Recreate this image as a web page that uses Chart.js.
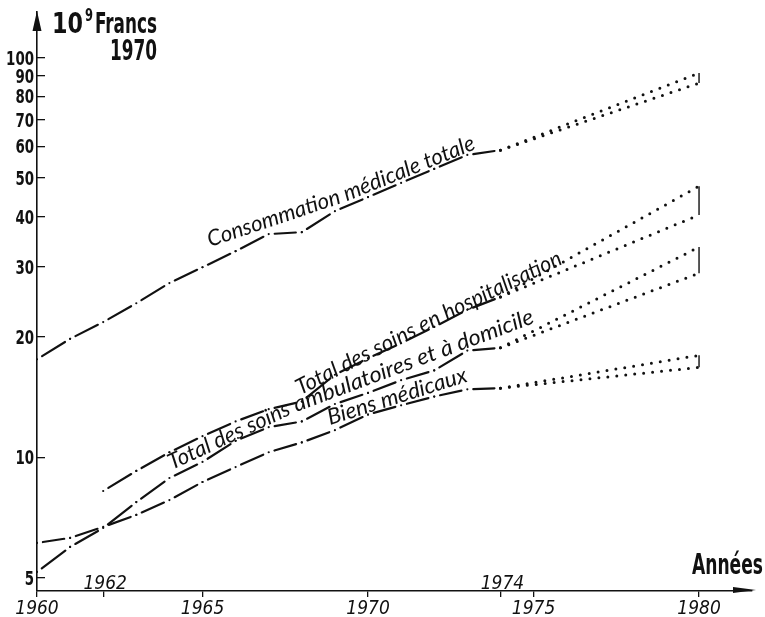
<!DOCTYPE html>
<html>
<head>
<meta charset="utf-8">
<script src="https://cdn.jsdelivr.net/npm/chart.js@4.4.1/dist/chart.umd.min.js"></script>
<style>
  html, body { margin: 0; padding: 0; background: #fff; }
  #wrap { position: relative; width: 765px; height: 617px; }
</style>
</head>
<body>
<div id="wrap"><canvas id="c" width="765" height="617"></canvas></div>
<script>
// Observed years (1960-1974), values in 10^9 francs (1970 prices)
const years = [1960, 1961, 1962, 1963, 1964, 1965, 1966, 1967, 1968, 1969, 1970, 1971, 1972, 1973, 1974];
const consommation    = [17.6, 19.8, 21.8, 24.3, 27.3, 29.9, 32.8, 36.2, 36.6, 41.3, 44.8, 48.6, 52.7, 57.1, 58.7];
const hospitalisation = [null, null, 8.24, 9.25, 10.3, 11.3, 12.3, 13.2, 13.8, 16.1, 17.7, 19.3, 21.2, 23.4, 25.2];
const ambulatoires    = [5.17, 5.97, 6.66, 7.73, 8.88, 9.74, 11.0, 11.9, 12.3, 13.6, 14.5, 15.6, 16.5, 18.5, 18.8];
const biens           = [6.11, 6.29, 6.70, 7.18, 7.82, 8.68, 9.46, 10.3, 10.9, 11.7, 12.8, 13.5, 14.2, 14.8, 14.9];

// Projections 1974 -> 1980: high and low hypotheses
const projectionYears = [1974, 1980];
const consommationHaute = [58.7, 91.5];
const consommationBasse = [58.7, 86.4];
const hospitalisationHaute = [25.2, 47.7];
const hospitalisationBasse = [25.2, 40.4];
const ambulatoiresHaute = [18.8, 33.6];
const ambulatoiresBasse = [18.8, 28.9];
const biensHaute = [14.9, 18.0];
const biensBasse = [14.9, 16.8];

// Axis ticks
const yTicks = [5, 10, 20, 30, 40, 50, 60, 70, 80, 90, 100];
const xTicks = [1960, 1962, 1965, 1970, 1974, 1975, 1980];
const xLabelsBelow = [1960, 1965, 1970, 1975, 1980];
const xLabelsAbove = [1962, 1974];

const NARROW = "'Liberation Sans Narrow', 'DejaVu Sans Condensed', 'Liberation Sans', sans-serif";
const CONDENSED = "'DejaVu Sans Condensed', 'Liberation Sans Narrow', 'DejaVu Sans', sans-serif";
const LETTERING = "Lato, 'Open Sans', 'DejaVu Sans', sans-serif";
const INK = '#111';

// Lettering along the curves: starts at a (year, value) point;
// each piece keeps its own slope (degrees) and horizontal stretch
const curveLabels = [
  { at: [1965.23, 33.6], parts: [['Consommation ', -18.5, 1], ['médicale totale', -22, 1]] },
  { at: [1967.95, 14.3], parts: [['Total des soins en ', -27, 1], ['hospitalisation', -26, 0.97]] },
  { at: [1964.08, 9.30], parts: [['Total des soins ', -25, 1], ['ambulatoires et à domicile', -20.5, 1.06]] },
  { at: [1968.85, 12.05], parts: [['Biens médicaux', -17.5, 1.02]] }
];

const toPoints = (xs, ys) => xs.map((x, i) => ({ x: x, y: ys[i] }));

// Dash-dot pattern: a dot on every yearly point, one dash between two points
const dashDot = ctx => {
  const L = Math.hypot(ctx.p1.x - ctx.p0.x, ctx.p1.y - ctx.p0.y);
  const g = 6;
  return [0, g, Math.max(L - 2 * g, 1), g];
};

function observed(data) {
  return {
    data: toPoints(years, data),
    borderColor: INK,
    borderWidth: 2.2,
    borderCapStyle: 'round',
    pointRadius: 0,
    tension: 0,
    spanGaps: false,
    segment: {
      borderDash: dashDot,
      borderCapStyle: 'round',
      borderWidth: 2.2,
      borderColor: INK
    }
  };
}
function projected(data) {
  return {
    data: toPoints(projectionYears, data),
    borderColor: INK,
    borderWidth: 3,
    borderCapStyle: 'round',
    borderDash: [0, 9],
    pointRadius: 0,
    tension: 0
  };
}
function bracket(hi, lo) {
  return {
    data: [{ x: projectionYears[1], y: hi[1] }, { x: projectionYears[1], y: lo[1] }],
    borderColor: INK,
    borderWidth: 1.4,
    pointRadius: 0
  };
}

const decorations = {
  id: 'decorations',
  afterDraw(chart) {
    const ctx = chart.ctx;
    const xs = chart.scales.x, ys = chart.scales.y;
    const area = chart.chartArea;
    ctx.save();
    ctx.fillStyle = INK;
    ctx.strokeStyle = INK;

    // axis arrow heads
    const ax = area.left;
    ctx.beginPath();
    ctx.moveTo(ax, area.top - 1);
    ctx.lineTo(ax - 4.5, area.top + 19);
    ctx.lineTo(ax + 4.5, area.top + 19);
    ctx.closePath();
    ctx.fill();
    const ay = area.bottom;
    ctx.beginPath();
    ctx.moveTo(area.right + 4, ay - 1);
    ctx.lineTo(area.right - 19, ay - 4);
    ctx.lineTo(area.right - 19, ay + 2);
    ctx.closePath();
    ctx.fill();

    // text squeezed to a given width (condensed lettering)
    const fitText = (text, x, y, font, width, align) => {
      ctx.font = font;
      const w = ctx.measureText(text).width;
      ctx.save();
      ctx.translate(align === 'right' ? x - width : x, y);
      ctx.scale(width / w, 1);
      ctx.textAlign = 'left';
      ctx.textBaseline = 'alphabetic';
      ctx.fillText(text, 0, 0);
      ctx.restore();
    };

    // value axis labels, condensed bold
    yTicks.forEach(v => {
      const py = ys.getPixelForValue(v);
      const s = String(v);
      fitText(s, ax - 3, py + 7, 'bold 19px ' + NARROW, 9.3 * s.length, 'right');
    });

    // unit heading of the value axis
    fitText('10', 52, 33, 'bold 29px ' + NARROW, 31);
    fitText('9', 85, 21, 'bold 18px ' + NARROW, 8);
    fitText('Francs', 95, 33, 'bold 29px ' + NARROW, 62);
    fitText('1970', 110, 60, 'bold 29px ' + NARROW, 47);
    // time axis title
    fitText('Années', 692, 574, 'bold 28px ' + NARROW, 71);

    // year labels sitting above the time axis
    ctx.font = 'italic 19px ' + CONDENSED;
    ctx.textAlign = 'center';
    ctx.textBaseline = 'alphabetic';
    xLabelsAbove.forEach(v => {
      ctx.fillText(String(v), xs.getPixelForValue(v) + 2, ay - 2);
    });

    // lettering along the curves, one common size
    ctx.font = 'italic 20px ' + LETTERING;
    const ref = ctx.measureText('Consommation médicale totale').width;
    const size = 20 * 284 / ref;
    ctx.font = 'italic ' + size.toFixed(2) + 'px ' + LETTERING;
    ctx.textAlign = 'left';
    ctx.textBaseline = 'alphabetic';
    curveLabels.forEach(lab => {
      let x = xs.getPixelForValue(lab.at[0]);
      let y = ys.getPixelForValue(lab.at[1]);
      lab.parts.forEach(([text, deg, stretch]) => {
        const a = deg * Math.PI / 180;
        ctx.save();
        ctx.translate(x, y);
        ctx.rotate(a);
        ctx.scale(stretch, 1);
        ctx.fillText(text, 0, 0);
        ctx.restore();
        const w = ctx.measureText(text).width * stretch;
        x += w * Math.cos(a);
        y += w * Math.sin(a);
      });
    });
    ctx.restore();
  }
};

new Chart(document.getElementById('c'), {
  type: 'line',
  data: {
    datasets: [
      observed(consommation),
      observed(hospitalisation),
      observed(ambulatoires),
      observed(biens),
      projected(consommationHaute), projected(consommationBasse),
      projected(hospitalisationHaute), projected(hospitalisationBasse),
      projected(ambulatoiresHaute), projected(ambulatoiresBasse),
      projected(biensHaute), projected(biensBasse),
      bracket(consommationHaute, consommationBasse),
      bracket(hospitalisationHaute, hospitalisationBasse),
      bracket(ambulatoiresHaute, ambulatoiresBasse),
      bracket(biensHaute, biensBasse)
    ]
  },
  options: {
    responsive: false,
    animation: false,
    devicePixelRatio: 1,
    layout: { padding: { top: 12, right: 13, left: 0, bottom: 0 } },
    plugins: { legend: { display: false }, tooltip: { enabled: false } },
    scales: {
      x: {
        type: 'linear',
        min: 1960,
        max: 1981.6,
        afterBuildTicks: s => { s.ticks = xTicks.map(v => ({ value: v })); },
        afterFit: s => { s.height = 26; },
        ticks: {
          autoSkip: false,
          maxRotation: 0,
          padding: 1,
          color: INK,
          font: { family: CONDENSED, style: 'italic', size: 19 },
          callback: v => xLabelsBelow.includes(v) ? String(v) : ''
        },
        grid: { display: true, drawOnChartArea: false, drawTicks: true, tickLength: 6, color: INK, lineWidth: 1.3 },
        border: { display: true, color: INK, width: 1.6 }
      },
      y: {
        type: 'logarithmic',
        min: 4.632,
        max: 130.1,
        afterBuildTicks: s => { s.ticks = yTicks.map(v => ({ value: v })); },
        afterFit: s => { s.width = 37; },
        ticks: { display: false },
        grid: { display: true, drawOnChartArea: false, drawTicks: true, tickLength: -8, color: INK, lineWidth: 1.3 },
        border: { display: true, color: INK, width: 1.6 }
      }
    }
  },
  plugins: [decorations]
});
</script>
</body>
</html>
